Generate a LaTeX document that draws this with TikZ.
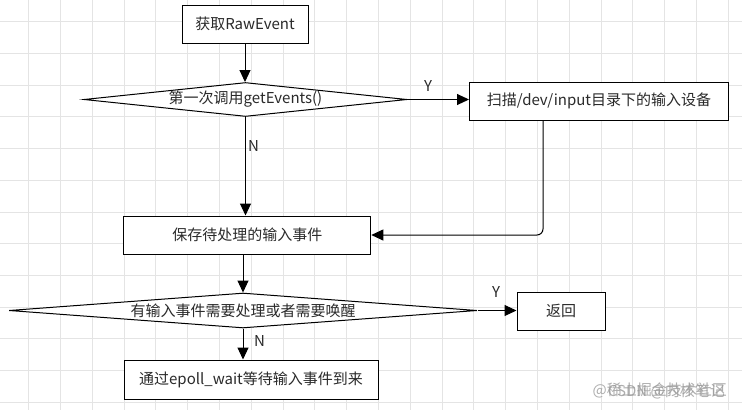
\documentclass[tikz,border=0pt]{standalone}
\usepackage{fontspec}
\setmainfont{Noto Sans CJK SC}
\usetikzlibrary{shapes.geometric,arrows.meta,calc}
\definecolor{gridc}{HTML}{E4E4E4}
\definecolor{txt}{HTML}{2A2A2A}
\definecolor{wm}{HTML}{9A9A9A}
\tikzset{
  stepbox/.style={draw=black, fill=white, line width=1pt, inner sep=0pt, text=txt,
    font=\fontsize{15pt}{18pt}\selectfont},
  decbox/.style={draw=black, fill=white, line width=1pt, diamond, inner sep=0pt},
  dectext/.style={text=txt, inner sep=0pt, font=\fontsize{15pt}{18pt}\selectfont},
  lbl/.style={text=txt, inner sep=0pt, font=\fontsize{15pt}{18pt}\selectfont},
  arr/.style={draw=black, line width=1pt, -{Triangle[length=12pt,width=11pt]}},
  wmtext/.style={text=wm, opacity=0.8, inner sep=0pt, anchor=east, font=\fontsize{15pt}{18pt}\selectfont}
}
\begin{document}
\begin{tikzpicture}[x=1pt,y=-1pt]
\useasboundingbox (0,0) rectangle (742,410);
\fill[white] (0,0) rectangle (742,410);
% grid
\foreach \i in {0,...,23} {\draw[gridc, line width=0.8pt] (28.5+31.8*\i,0) -- (28.5+31.8*\i,410);}
\foreach \j in {0,...,12} {\draw[gridc, line width=0.8pt] (0,21.7+31.7*\j) -- (742,21.7+31.7*\j);}

% nodes
\node[stepbox, minimum width=126pt, minimum height=38pt] (b1) at (245,24) {获取RawEvent};
\node[decbox, minimum width=323pt, minimum height=34pt] (d1) at (245.5,99.5) {};
\node[dectext] (t1) at (d1.center) {第一次调用getEvents()};
\node[stepbox, minimum width=259pt, minimum height=38pt] (b2) at (599,101) {扫描/dev/input目录下的输入设备};
\node[stepbox, minimum width=247pt, minimum height=38pt] (b3) at (247.3,235) {保存待处理的输入事件};
\node[decbox, minimum width=468pt, minimum height=35pt] (d2) at (243,310.5) {};
\node[dectext] (t2) at (d2.center) {有输入事件需要处理或者需要唤醒};
\node[stepbox, minimum width=88pt, minimum height=38pt] (b4) at (561,311) {返回};
\node[stepbox, minimum width=254pt, minimum height=39pt] (b5) at (251,379.5) {通过epoll\_wait等待输入事件到来};

% labels
\node[lbl] (y1) at (428,86) {Y};
\node[lbl] (n1) at (253.5,146) {N};
\node[lbl] (y2) at (496,292) {Y};
\node[lbl] (n2) at (259.5,341) {N};

% watermark
\node[wmtext] (w1) at (727,390) {@稀土掘金技术社区};
\node[wmtext] (w2) at (725,391) {CSDN @内核笔记};

% connectors
\draw[arr] (b1.south) -- (b1.south |- d1.north);
\draw[arr] (d1.east) -- (d1.east -| b2.west);
\draw[arr] (d1.south) -- (d1.south |- b3.north);
\draw[arr, rounded corners=6pt] ([xshift=74pt]b2.south west) |- (b3.east);
\draw[arr] (d2.north |- b3.south) -- (d2.north);
\draw[arr] (d2.east) -- (d2.east -| b4.west);
\draw[arr] (d2.south) -- (d2.south |- b5.north);
\end{tikzpicture}
\end{document}
